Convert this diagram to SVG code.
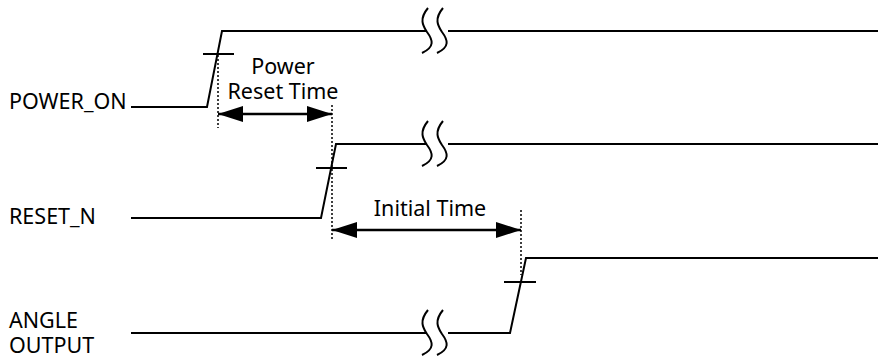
<svg xmlns="http://www.w3.org/2000/svg" width="878" height="360" viewBox="0 0 878 360">
<style>
.sig{fill:none;stroke:#000;stroke-width:2}
.sq{fill:none;stroke:#000;stroke-width:2}
.dot{fill:none;stroke:#000;stroke-width:1.5;stroke-dasharray:2,2}
.arr{fill:none;stroke:#000;stroke-width:2.5}
.t{font-family:"Noto Sans","Open Sans",sans-serif;font-size:21.5px;fill:#000}
</style>
<defs>
<marker id="ah" viewBox="0 0 25 16" refX="25" refY="8" markerWidth="25" markerHeight="16" markerUnits="userSpaceOnUse" orient="auto-start-reverse">
<path d="M0,0 L25,8 L0,16 Z" fill="#000"/>
</marker>
<path id="squig" d="M6,-23 C-4,-11 2,-4 5,1 C11,9 13,16 0,22"/>
</defs>
<g id="power_on">
<text class="t" x="9" y="109">POWER_ON</text>
<polyline class="sig" points="131,107 207,107 222,31 427,31"/>
<line class="sig" x1="448" y1="31" x2="878" y2="31"/>
<line class="sig" x1="203" y1="54" x2="234" y2="54"/>
<use href="#squig" class="sq" x="422" y="31"/>
<use href="#squig" class="sq" x="437" y="31"/>
</g>
<g id="reset_n">
<text class="t" x="9" y="224">RESET_N</text>
<polyline class="sig" points="131,218 321,218 336,144 427,144"/>
<line class="sig" x1="448" y1="144" x2="878" y2="144"/>
<line class="sig" x1="316" y1="168" x2="347" y2="168"/>
<use href="#squig" class="sq" x="422" y="144"/>
<use href="#squig" class="sq" x="437" y="144"/>
</g>
<g id="angle_output">
<text class="t" x="9" y="328">ANGLE</text>
<text class="t" x="9" y="353">OUTPUT</text>
<polyline class="sig" points="131,333 427,333"/>
<polyline class="sig" points="448,333 510,333 526,258 878,258"/>
<line class="sig" x1="504" y1="282" x2="536" y2="282"/>
<use href="#squig" class="sq" x="422" y="333"/>
<use href="#squig" class="sq" x="437" y="333"/>
</g>
<g id="power_reset_time">
<text class="t" x="283" y="74" text-anchor="middle">Power</text>
<text class="t" x="283" y="99" text-anchor="middle">Reset Time</text>
</g>
<g id="initial_time">
<text class="t" x="430" y="216" text-anchor="middle">Initial Time</text>
</g>
<g id="connectors">
<line class="dot" x1="218" y1="55" x2="218" y2="128"/>
<line class="dot" x1="332" y1="105" x2="332" y2="240"/>
<line class="dot" x1="521" y1="210" x2="521" y2="275"/>
<line class="arr" x1="218" y1="114" x2="332" y2="114" marker-start="url(#ah)" marker-end="url(#ah)"/>
<line class="arr" x1="332" y1="230" x2="521" y2="230" marker-start="url(#ah)" marker-end="url(#ah)"/>
</g>
</svg>
